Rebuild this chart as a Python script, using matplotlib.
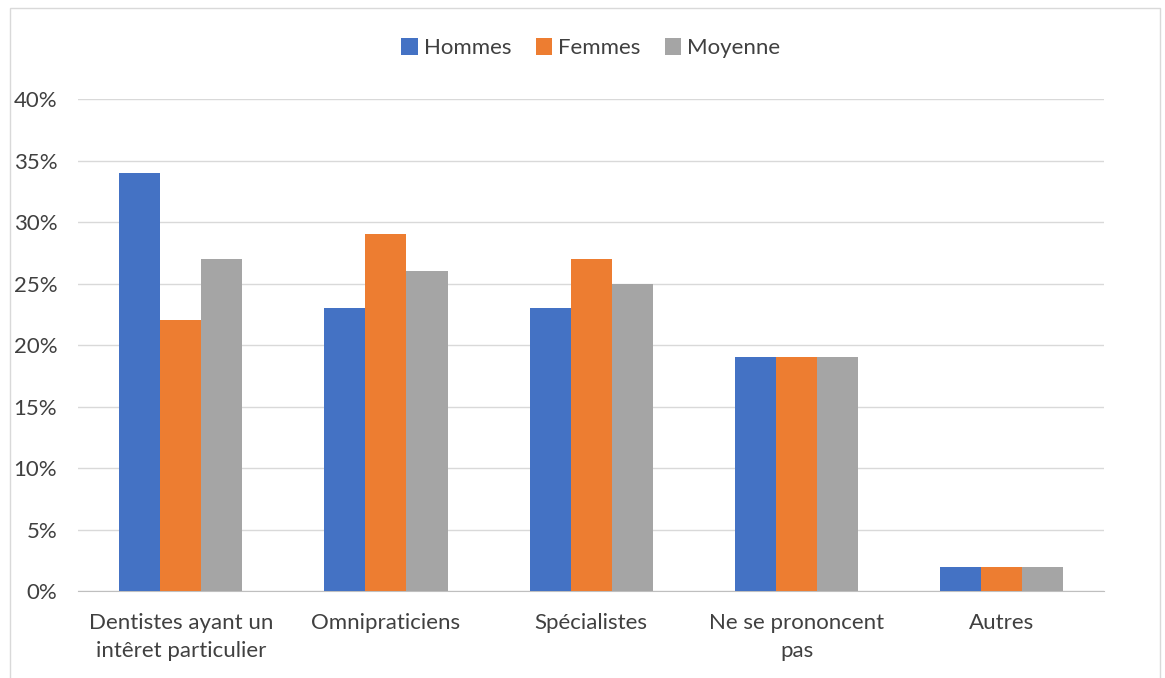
import numpy as np
import matplotlib
matplotlib.use('Agg')
import matplotlib.pyplot as plt
from matplotlib.patches import Rectangle

plt.rcParams['font.family'] = ['Lato', 'DejaVu Sans']

# données
categories = ['Dentistes ayant un\nintêret particulier', 'Omnipraticiens',
              'Spécialistes', 'Ne se prononcent\npas', 'Autres']
hommes = [34, 23, 23, 19, 2]
femmes = [22, 29, 27, 19, 2]
moyenne = [27, 26, 25, 19, 2]
series = [('Hommes', hommes, '#4472C4'),
          ('Femmes', femmes, '#ED7D31'),
          ('Moyenne', moyenne, '#A5A5A5')]
yticks = [0, 5, 10, 15, 20, 25, 30, 35, 40]

fig = plt.figure(figsize=(11.65, 6.78), dpi=100)
ax = fig.add_axes([0.067, 0.128, 0.881, 0.726])

x = np.arange(len(categories))
w = 0.2
for i, (name, vals, c) in enumerate(series):
    ax.bar(x + (i - 1) * w, vals, width=w, color=c, label=name, zorder=3)

ax.set_xlim(-0.5, len(categories) - 0.5)
ax.set_ylim(0, 40)
ax.set_yticks(yticks)
ax.set_yticklabels([f'{t}%' for t in yticks], fontsize=16, color='#404040')
ax.set_xticks(x)
ax.set_xticklabels(categories, fontsize=16, color='#404040', linespacing=1.45)
ax.tick_params(length=0)
ax.tick_params(axis='x', pad=16)
ax.tick_params(axis='y', pad=15)
ax.grid(axis='y', color='#D9D9D9', linewidth=1, zorder=0)
for s in ['top', 'right', 'left']:
    ax.spines[s].set_visible(False)
ax.spines['bottom'].set_color('#BFBFBF')

fig.legend(loc='center', bbox_to_anchor=(0.507, 0.929), ncol=3, frameon=False,
           fontsize=16, handlelength=0.75, handleheight=0.75, handletextpad=0.25,
           columnspacing=1.1, labelcolor='#404040')

fig.patches.append(Rectangle((0.009, -0.01), 0.987, 0.998, transform=fig.transFigure,
                             fill=False, edgecolor='#D9D9D9', linewidth=1))

fig.savefig('out.png', dpi=100)
